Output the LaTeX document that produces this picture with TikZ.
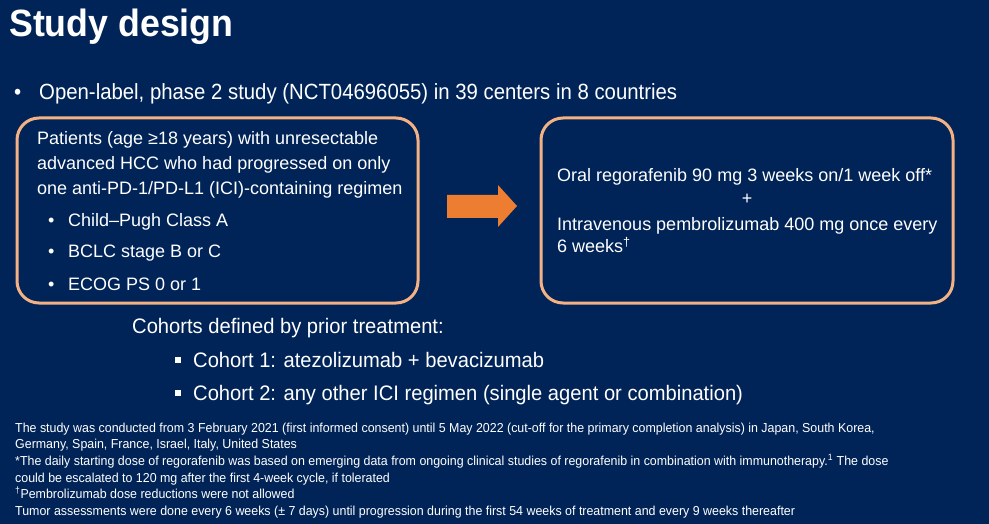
\documentclass[tikz,border=0pt]{standalone}
\usepackage{fontspec}
\setmainfont{Liberation Sans}
\newfontfamily\ttlfont[FakeStretch=0.94]{Liberation Sans}
\newfontfamily\introfont[FakeStretch=0.925]{Liberation Sans}
\newfontfamily\cohfont[FakeStretch=0.96]{Liberation Sans}
\newfontfamily\footfont[FakeStretch=0.955]{Liberation Sans}
\definecolor{bg}{HTML}{002457}
\definecolor{peach}{HTML}{F4B183}
\definecolor{orng}{HTML}{ED7D31}
\begin{document}
\begin{tikzpicture}[x=1pt,y=-1pt,
  txt/.style={text=white, inner sep=0pt, anchor=base west},
  ttl/.style={txt, font=\ttlfont\fontsize{38}{40}\selectfont\bfseries},
  intro/.style={txt, font=\introfont\fontsize{22}{24}\selectfont},
  boxtxt/.style={txt, font=\fontsize{18}{20}\selectfont},
  coh/.style={txt, font=\cohfont\fontsize{21}{23}\selectfont},
  foot/.style={txt, font=\footfont\fontsize{13}{15}\selectfont},
  panel/.style={draw=peach, line width=3pt, rounded corners=22pt, fill=none, inner sep=0pt},
  sqbul/.style={fill=white, inner sep=0pt, minimum size=6pt}]
\fill[bg] (0,0) rectangle (989,524);
\useasboundingbox (0,0) rectangle (989,524);

\node[ttl] (title) at (9,37) {Study design};
\node[intro] (ib) at (14,100) {•};
\node[intro] (it) at (39,100) {Open-label, phase 2 study (NCT04696055) in 39 centers in 8 countries};

\node[panel, minimum width=401pt, minimum height=185pt] (left) at (217.5,210.5) {};
\node[boxtxt] (p1) at (37,145) {Patients (age ≥18 years) with unresectable};
\node[boxtxt] (p2) at (37,170) {advanced HCC who had progressed on only};
\node[boxtxt] (p3) at (37,195) {one anti-PD-1/PD-L1 (ICI)-containing regimen};
\node[boxtxt] (pb1) at (48,227) {•};
\node[boxtxt] (pc1) at (68,227) {Child–Pugh Class A};
\node[boxtxt] (pb2) at (48,258) {•};
\node[boxtxt] (pc2) at (68,258) {BCLC stage B or C};
\node[boxtxt] (pb3) at (48,290) {•};
\node[boxtxt] (pc3) at (68,290) {ECOG PS 0 or 1};

\fill[orng] (447,195) -- (498,195) -- (498,185) -- (517,206) -- (498,227) -- (498,218) -- (447,218) -- cycle;

\node[panel, minimum width=412pt, minimum height=185pt] (right) at (747,210.5) {};
\node[boxtxt] (r1) at (557,182) {Oral regorafenib 90 mg 3 weeks on/1 week off*};
\node[boxtxt, anchor=base] (rplus) at (747,205) {+};
\node[boxtxt] (r2) at (557,231) {Intravenous pembrolizumab 400 mg once every};
\node[boxtxt] (r3) at (557,253) {6 weeks\textsuperscript{†}};

\node[coh] (c0) at (132,333) {Cohorts defined by prior treatment:};
\node[sqbul] (s1) at (178,360) {};
\node[coh] (c1) at (193,367) {Cohort 1: atezolizumab + bevacizumab};
\node[sqbul] (s2) at (178,393) {};
\node[coh] (c2) at (193,400) {Cohort 2: any other ICI regimen (single agent or combination)};

\node[foot] (f1) at (15,432) {The study was conducted from 3 February 2021 (first informed consent) until 5 May 2022 (cut-off for the primary completion analysis) in Japan, South Korea,};
\node[foot] (f2) at (15,448) {Germany, Spain, France, Israel, Italy, United States};
\node[foot] (f3) at (15,465) {*The daily starting dose of regorafenib was based on emerging data from ongoing clinical studies of regorafenib in combination with immunotherapy.\textsuperscript{1} The dose};
\node[foot] (f4) at (15,482) {could be escalated to 120 mg after the first 4-week cycle, if tolerated};
\node[foot] (f5) at (15,498) {\textsuperscript{†}Pembrolizumab dose reductions were not allowed};
\node[foot] (f6) at (15,515) {Tumor assessments were done every 6 weeks (± 7 days) until progression during the first 54 weeks of treatment and every 9 weeks thereafter};
\end{tikzpicture}
\end{document}
